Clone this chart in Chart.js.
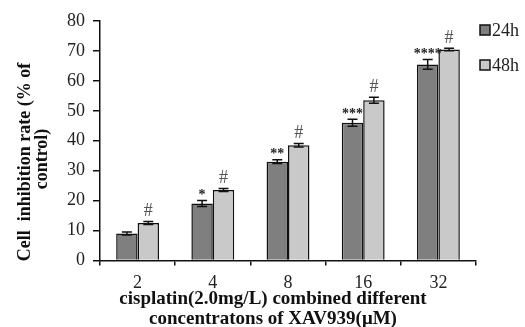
<!DOCTYPE html>
<html>
<head>
<meta charset="utf-8">
<script src="https://cdn.jsdelivr.net/npm/chart.js@4"></script>
<style>
  html, body { margin: 0; padding: 0; background: #fff; }
  #wrap { width: 525px; height: 327px; }
</style>
</head>
<body>
<div id="wrap"><canvas id="barChart" width="525" height="327"></canvas></div>
<script>
// XAV939 concentration (uM)
var concentrations = ['2', '4', '8', '16', '32'];
// inhibition rate (% of control)
var rate24h = [9, 19, 33, 46, 65.5];
var rate48h = [12.5, 23.5, 38.5, 53.5, 70.5];
var err24h = [0.5, 1, 0.6, 1.2, 1.6];
var err48h = [0.5, 0.5, 0.6, 1, 0.4];
var marks24h = ['', '*', '**', '***', '****'];
var marks48h = ['#', '#', '#', '#', '#'];
var yTicks = [0, 10, 20, 30, 40, 50, 60, 70, 80];
var xTitle = ['cisplatin(2.0mg/L) combined different', 'concentratons of XAV939(\u03bcM)'];
var yTitle = ['Cell  inhibition rate (% of', 'control)'];

var serif = "'Liberation Serif', 'Times New Roman', serif";

// error bars + significance marks
var errorBarPlugin = {
    id: 'errorBars',
    afterDatasetsDraw: function(chart) {
        var ctx = chart.ctx;
        var yScale = chart.scales.y;
        var errs = [err24h, err48h];
        var vals = [rate24h, rate48h];
        var marks = [marks24h, marks48h];
        ctx.save();
        chart.data.datasets.forEach(function(ds, di) {
            var meta = chart.getDatasetMeta(di);
            meta.data.forEach(function(bar, i) {
                var v = vals[di][i], e = errs[di][i];
                var yTop = yScale.getPixelForValue(v + e);
                var yBot = yScale.getPixelForValue(v - e);
                ctx.strokeStyle = '#111';
                ctx.lineWidth = 1.5;
                ctx.beginPath();
                ctx.moveTo(bar.x, yTop); ctx.lineTo(bar.x, yBot);
                ctx.moveTo(bar.x - 5, yTop); ctx.lineTo(bar.x + 5, yTop);
                ctx.moveTo(bar.x - 5, yBot); ctx.lineTo(bar.x + 5, yBot);
                ctx.stroke();
                var m = marks[di][i];
                if (m) {
                    ctx.textAlign = 'center';
                    ctx.textBaseline = 'bottom';
                    if (m === '#') {
                        ctx.font = '18px ' + serif;
                        ctx.fillStyle = '#555';
                        ctx.fillText(m, bar.x, yTop - 1);
                    } else {
                        ctx.font = 'bold 14px ' + serif;
                        ctx.fillStyle = '#222';
                        ctx.fillText(m, bar.x, yTop + 2);
                    }
                }
            });
        });
        ctx.restore();
    }
};

// legend + axis titles (titles sit off-centre in the original)
var labelsPlugin = {
    id: 'sideLabels',
    afterDraw: function(chart) {
        var ctx = chart.ctx;
        var items = [['24h', '#7f7f7f', 30], ['48h', '#c9c9c9', 65]];
        ctx.save();
        items.forEach(function(it) {
            ctx.fillStyle = it[1];
            ctx.strokeStyle = '#111';
            ctx.lineWidth = 1.5;
            ctx.fillRect(480, it[2] - 5, 10, 10);
            ctx.strokeRect(480, it[2] - 5, 10, 10);
            ctx.fillStyle = '#222';
            ctx.font = '18px ' + serif;
            ctx.textAlign = 'left';
            ctx.textBaseline = 'middle';
            ctx.fillText(it[0], 492, it[2] + 1);
        });

        ctx.fillStyle = '#111';
        ctx.textAlign = 'center';
        ctx.textBaseline = 'middle';
        ctx.font = 'bold 19px ' + serif;
        ctx.fillText(xTitle[0], 273, 299);
        ctx.fillText(xTitle[1], 273, 319);

        ctx.translate(25, 162);
        ctx.rotate(-Math.PI / 2);
        ctx.font = 'bold 18px ' + serif;
        ctx.fillText(yTitle[0], 0, 0);
        ctx.fillText(yTitle[1], 3, 17);
        ctx.restore();
    }
};

function createBarChart() {
    var ctx = document.getElementById('barChart').getContext('2d');

    var data = {
        labels: concentrations,
        datasets: [{
            label: '24h',
            data: rate24h,
            backgroundColor: '#7f7f7f',
            borderColor: '#111',
            borderWidth: 1.5
        }, {
            label: '48h',
            data: rate48h,
            backgroundColor: '#c9c9c9',
            borderColor: '#111',
            borderWidth: 1.5
        }]
    };

    var config = {
        type: 'bar',
        data: data,
        plugins: [errorBarPlugin, labelsPlugin],
        options: {
            responsive: false,
            animation: false,
            layout: { padding: { top: 21, right: 49, left: 59, bottom: 26 } },
            datasets: { bar: { categoryPercentage: 0.57, barPercentage: 1 } },
            plugins: {
                legend: { display: false },
                tooltip: { enabled: false }
            },
            scales: {
                x: {
                    grid: {
                        offset: true,
                        drawOnChartArea: false,
                        color: '#111',
                        tickLength: 5,
                        lineWidth: 1.5
                    },
                    border: { color: '#111', width: 1.5 },
                    ticks: {
                        color: '#222',
                        font: { family: serif, size: 18 },
                        padding: 7
                    }
                },
                y: {
                    min: 0,
                    max: 80,
                    afterBuildTicks: function(axis) {
                        axis.ticks = yTicks.map(function(v) { return { value: v }; });
                    },
                    grid: {
                        drawOnChartArea: false,
                        color: '#111',
                        tickLength: 7,
                        lineWidth: 1.5
                    },
                    border: { color: '#111', width: 1.5 },
                    ticks: {
                        color: '#222',
                        font: { family: serif, size: 18 },
                        padding: 8
                    }
                }
            }
        }
    };

    var myChart = new Chart(ctx, config);
}

document.addEventListener('DOMContentLoaded', createBarChart);
</script>
</body>
</html>
